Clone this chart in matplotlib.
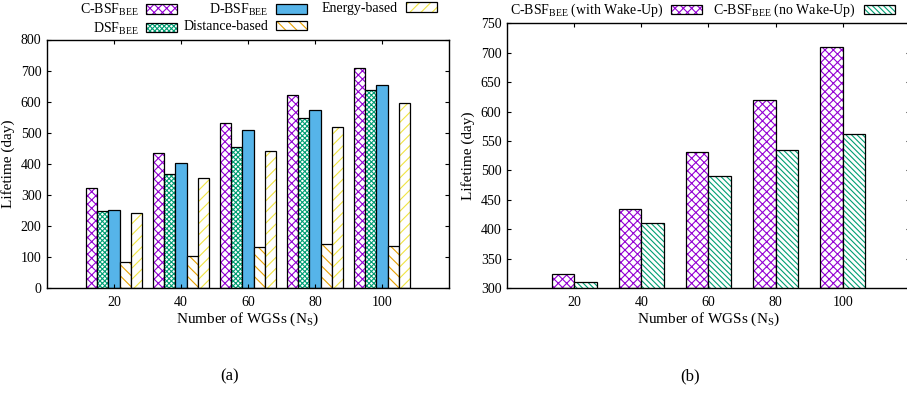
import numpy as np
import matplotlib
matplotlib.use('Agg')
import matplotlib.pyplot as plt
from matplotlib.patches import Patch
from matplotlib.legend_handler import HandlerTuple

plt.rcParams['font.family'] = ['Liberation Serif', 'DejaVu Serif']
plt.rcParams['mathtext.fontset'] = 'custom'
plt.rcParams['mathtext.rm'] = 'Liberation Serif'
plt.rcParams['font.size'] = 10
plt.rcParams['hatch.linewidth'] = 0.8

# data
wgs = ['20', '40', '60', '80', '100']
c_bsf = [323, 433, 532, 620, 709]
dsf = [248, 368, 455, 548, 636]
d_bsf = [250, 402, 510, 573, 652]
distance = [85, 102, 131, 143, 136]
energy = [242, 355, 440, 518, 595]

c_bsf_wake = [323, 434, 532, 620, 709]
c_bsf_nowake = [311, 410, 490, 535, 562]

purple = '#9400D3'
green = '#009E73'
blue = '#56B4E9'
orange = '#E69F00'
yellow = '#F0E442'

W, H = 907, 394


def hbar(ax, x, h, w, col, hatch, bottom=0):
    # hatch layer (hatch uses edgecolor) then a black outline on top
    if hatch:
        ax.bar(x, np.array(h) - bottom, w, bottom=bottom, color='white', edgecolor=col,
               hatch=hatch, linewidth=0)
    else:
        ax.bar(x, np.array(h) - bottom, w, bottom=bottom, color=col, linewidth=0)
    ax.bar(x, np.array(h) - bottom, w, bottom=bottom, facecolor='none',
           edgecolor='black', linewidth=0.9)


def handle(col, hatch):
    if hatch:
        p1 = Patch(facecolor='white', edgecolor=col, hatch=hatch, linewidth=0)
    else:
        p1 = Patch(facecolor=col, linewidth=0)
    p2 = Patch(facecolor='none', edgecolor='black', linewidth=0.9)
    return (p1, p2)


def key(handles, labels, right_px, top_px):
    # gnuplot-style key column: label then sample box, anchored at right edge
    leg = fig.legend(handles, labels, handler_map={tuple: HandlerTuple(ndivide=1)},
                     markerfirst=False, frameon=False, loc='upper right',
                     bbox_to_anchor=(right_px / W, 1 - top_px / H),
                     bbox_transform=fig.transFigure, handlelength=2.2,
                     handleheight=0.65, labelspacing=0.15, handletextpad=0.6,
                     borderpad=0, borderaxespad=0, fontsize=10)
    return leg


def style(ax):
    ax.tick_params(direction='in', top=True, right=True, length=3, labelsize=10, pad=4)
    ax.tick_params(axis='x', pad=6)
    for s in ax.spines.values():
        s.set_linewidth(1.0)
    ax.set_xlim(-1, 5)
    ax.set_xticks(range(5))
    ax.set_xticklabels(wgs)
    ax.set_xlabel('Number of WGSs (N$_\\mathrm{S}$)', fontsize=11, labelpad=1)
    ax.set_ylabel('Lifetime (day)', fontsize=11)


fig = plt.figure(figsize=(W / 100, H / 100), dpi=100)

# (a)
ax1 = fig.add_axes([47 / W, 1 - 288 / H, 402 / W, 248.5 / H])
x = np.arange(len(wgs))
w = 0.168
series = [(c_bsf, purple, 'xxxx'), (dsf, green, 'xxxxxxx'), (d_bsf, blue, None),
          (distance, orange, '\\\\\\'), (energy, yellow, '///')]
for i, (vals, col, hat) in enumerate(series):
    hbar(ax1, x + (i - 2) * w, vals, w, col, hat)
ax1.set_ylim(0, 800)
ax1.set_yticks(range(0, 801, 100))
style(ax1)
ax1.yaxis.set_label_coords(-0.08, 0.5)

labels_a = ['C-BSF$_\\mathrm{BEE}$', 'DSF$_\\mathrm{BEE}$', 'D-BSF$_\\mathrm{BEE}$',
            'Distance-based', 'Energy-based']
handles_a = [handle(col, hat) for _, col, hat in series]
key(handles_a[0:2], labels_a[0:2], 177, 2)
key(handles_a[2:4], labels_a[2:4], 307, 2)
key(handles_a[4:5], labels_a[4:5], 437, 2)

# (b)
ax2 = fig.add_axes([507 / W, 1 - 288 / H, 403 / W, 264.7 / H])
w2 = 0.336
hbar(ax2, x - w2 / 2, c_bsf_wake, w2, purple, 'xxxx', bottom=300)
hbar(ax2, x + w2 / 2, c_bsf_nowake, w2, green, '\\\\\\\\\\\\')
ax2.set_ylim(300, 750)
ax2.set_yticks(range(300, 751, 50))
style(ax2)
ax2.yaxis.set_label_coords(-0.08, 0.5)

handles_b = [handle(purple, 'xxxx'), handle(green, '\\\\\\\\\\\\')]
labels_b = ['C-BSF$_\\mathrm{BEE}$ (with Wake-Up)', 'C-BSF$_\\mathrm{BEE}$ (no Wake-Up)']
key(handles_b[0:1], labels_b[0:1], 702, 2)
key(handles_b[1:2], labels_b[1:2], 895, 2)

fig.text(230 / W, 1 - 376 / H, '(a)', ha='center', va='center', fontsize=12)
fig.text(690 / W, 1 - 376 / H, '(b)', ha='center', va='center', fontsize=12)

fig.savefig('out.png', dpi=100)
